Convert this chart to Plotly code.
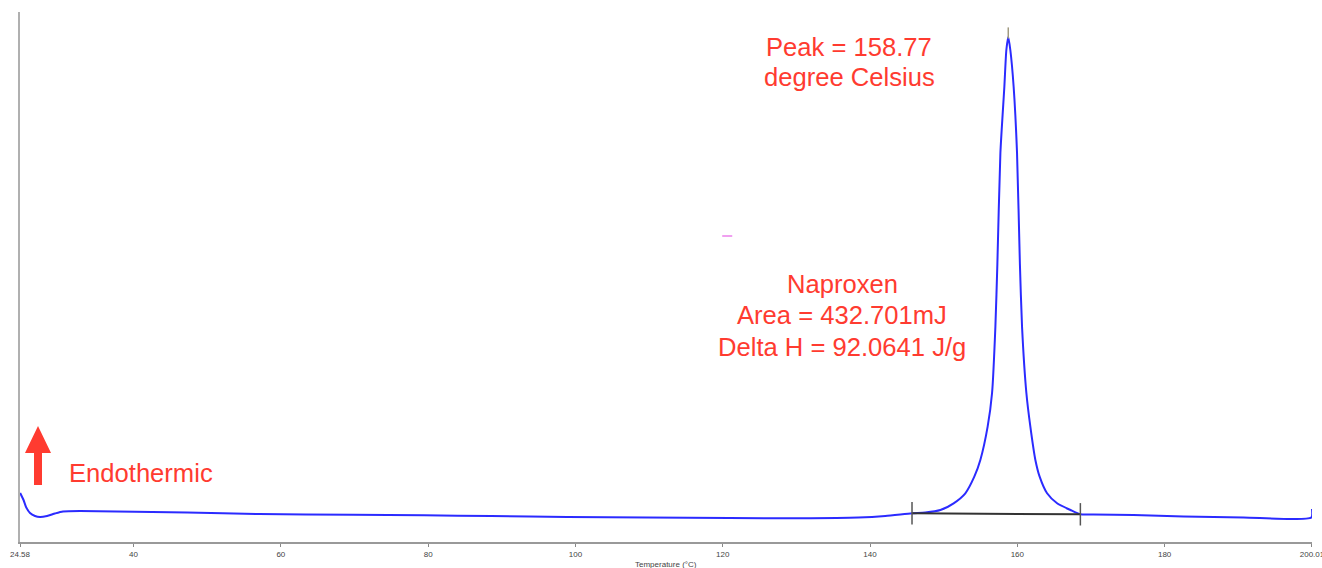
import plotly.graph_objects as go

# DSC heating scan of naproxen: temperature (°C) vs heat flow (arbitrary units, endo up)
temp_c = [
    24.60, 25.06, 25.40, 25.94, 26.62, 27.30, 28.25, 29.33, 30.42, 32.73,
    47.26, 57.04, 69.81, 79.46, 88.56, 98.88, 109.75, 120.89, 130.53, 138.41,
    142.08, 145.70, 147.51, 149.55, 151.35, 152.94, 154.16, 154.98, 155.97, 156.57,
    157.02, 157.29, 157.70, 158.24, 158.51, 158.77, 159.05, 159.50, 159.96, 160.35,
    160.64, 161.23, 161.77, 162.45, 163.03, 164.04, 165.40, 167.21, 168.56, 170.34,
    175.77, 182.57, 190.72, 199.92, 200.01,
]
heat_flow = [
    4.90, 4.20, 3.50, 2.90, 2.60, 2.50, 2.60, 2.85, 3.05, 3.10,
    2.95, 2.80, 2.73, 2.67, 2.60, 2.50, 2.45, 2.40, 2.38, 2.45,
    2.60, 2.87, 2.95, 3.20, 3.87, 4.87, 6.53, 8.20, 11.53, 14.90,
    21.53, 27.80, 38.90, 45.53, 49.20, 50.50, 49.20, 45.53, 38.90, 27.80,
    21.53, 14.90, 11.53, 8.20, 6.53, 4.87, 3.87, 3.20, 2.77, 2.75,
    2.70, 2.55, 2.45, 2.45, 3.30,
]

# Integration baseline limits of the melting endotherm
baseline_t = [145.70, 168.56]
baseline_v = [2.87, 2.77]

peak_t = 158.77
peak_v = 50.50

tick_vals = [24.58, 40, 60, 80, 100, 120, 140, 160, 180, 200.01]
tick_text = ["24.58", "40", "60", "80", "100", "120", "140", "160", "180", "200.01"]

peak_lines = ["Peak = 158.77", "degree Celsius"]
result_lines = ["Naproxen", "Area = 432.701mJ", "Delta H = 92.0641 J/g"]

RED = "#ff3b30"
FONT = "Liberation Sans, Arial, Helvetica, sans-serif"
TXT = 25.6

fig = go.Figure()

fig.add_trace(go.Scatter(
    x=temp_c, y=heat_flow, mode="lines",
    line=dict(color="#2b2bff", width=2, shape="spline", smoothing=0.6),
    hoverinfo="skip", showlegend=False,
))

fig.add_trace(go.Scatter(
    x=baseline_t, y=baseline_v, mode="lines+markers",
    line=dict(color="#333333", width=2),
    marker=dict(symbol="line-ns", size=16, line=dict(color="#555555", width=1.5)),
    hoverinfo="skip", showlegend=False,
))

fig.add_trace(go.Scatter(
    x=[peak_t], y=[peak_v + 0.4], mode="markers",
    marker=dict(symbol="line-ns", size=8, line=dict(color="#a09a80", width=1.5)),
    hoverinfo="skip", showlegend=False,
))

# small cursor mark left on the trace window
fig.add_shape(type="line", xref="x", yref="y", x0=119.93, x1=121.29, y0=30.6, y1=30.6,
              line=dict(color="#f0a0f0", width=2))

# endothermic direction arrow
fig.add_shape(
    type="path", xref="paper", yref="paper",
    path="M 0.01394 0.2189 L 0.0240 0.1679 L 0.01703 0.1679 L 0.01703 0.1075 "
         "L 0.01084 0.1075 L 0.01084 0.1679 L 0.00387 0.1679 Z",
    fillcolor=RED, line=dict(width=0),
)


def add_label(text, x, y_px, xanchor="center", size=TXT, color=RED, xref="x"):
    fig.add_annotation(
        xref=xref, yref="paper", x=x, y=(542 - y_px) / 530,
        xanchor=xanchor, yanchor="middle", text=text, showarrow=False,
        font=dict(family=FONT, size=size, color=color),
    )


for line, y_px in zip(peak_lines, [47, 77]):
    add_label(line, 137.2, y_px)
for line, y_px in zip(result_lines, [284, 315, 347]):
    add_label(line, 136.24, y_px)
add_label("Endothermic", (67 - 20) / 1292, 473, xanchor="left", xref="paper")
add_label("Temperature (°C)", 0.5, 564, size=8, color="#444444", xref="paper")

fig.update_xaxes(
    range=[24.58, 200.012], tickmode="array", tickvals=tick_vals, ticktext=tick_text,
    ticks="outside", ticklen=3, tickcolor="#888888", tickwidth=1,
    tickfont=dict(family=FONT, size=8, color="#444444"),
    ticklabeloverflow="allow", automargin=False,
    showline=True, linecolor="#999999", linewidth=2,
    showgrid=False, zeroline=False,
)
fig.update_yaxes(
    range=[0, 53], showticklabels=False, ticks="", automargin=False,
    showline=True, linecolor="#b0b0b0", linewidth=2,
    showgrid=False, zeroline=False,
)

fig.update_layout(
    width=1322, height=568,
    margin=dict(l=20, r=10, t=12, b=26),
    paper_bgcolor="white", plot_bgcolor="white",
    font=dict(family=FONT),
)

fig.write_html("out.html")
